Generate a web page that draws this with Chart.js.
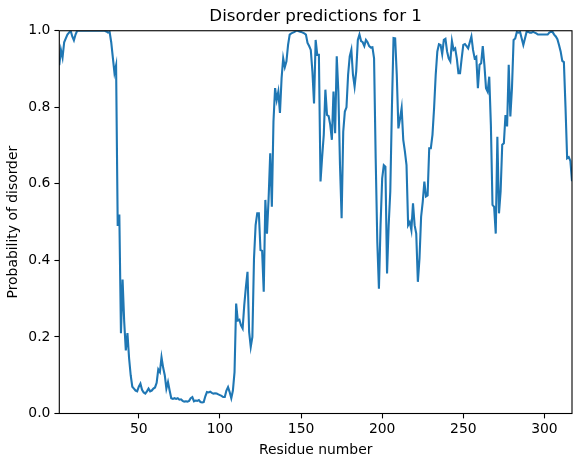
<!DOCTYPE html>
<html>
<head>
<meta charset="utf-8">
<title>Disorder predictions for 1</title>
<script src="https://cdn.jsdelivr.net/npm/chart.js@4.4.1/dist/chart.umd.min.js"></script>
<style>
  html, body { margin: 0; padding: 0; background: #fff; }
  #wrap { width: 573px; height: 459px; }
</style>
</head>
<body>
<div id="wrap"><canvas id="disorderChart" width="573" height="459"></canvas></div>
<script>
// disorder probability per residue (1..317)
const disorder = [
  0.91, 0.95, 0.93, 0.97, 0.98, 0.99, 0.995, 1.0, 0.985, 0.975,
  0.99, 1.0, 1.0, 1.0, 1.0, 1.0, 1.0, 1.0, 1.0, 1.0,
  1.0, 1.0, 1.0, 1.0, 1.0, 1.0, 1.0, 1.0, 1.0, 0.998,
  0.995, 0.997, 0.97, 0.93, 0.89, 0.91, 0.49, 0.52, 0.21, 0.35,
  0.24, 0.165, 0.21, 0.145, 0.1, 0.07, 0.065, 0.06, 0.058, 0.07,
  0.078, 0.062, 0.055, 0.052, 0.058, 0.065, 0.058, 0.06, 0.065, 0.068,
  0.08, 0.115, 0.108, 0.147, 0.12, 0.1, 0.065, 0.082, 0.06, 0.04,
  0.038, 0.04, 0.038, 0.04, 0.036, 0.037, 0.033, 0.031, 0.032, 0.031,
  0.033, 0.04, 0.043, 0.032, 0.034, 0.033, 0.035, 0.03, 0.029, 0.03,
  0.045, 0.056, 0.055, 0.057, 0.054, 0.052, 0.053, 0.052, 0.05, 0.048,
  0.046, 0.043, 0.043, 0.06, 0.069, 0.056, 0.04, 0.06, 0.108, 0.287,
  0.243, 0.245, 0.23, 0.222, 0.283, 0.33, 0.37, 0.213, 0.174, 0.2,
  0.405, 0.492, 0.523, 0.523, 0.427, 0.425, 0.318, 0.558, 0.47, 0.561,
  0.68, 0.54, 0.763, 0.85, 0.819, 0.841, 0.785, 0.876, 0.928, 0.905,
  0.92, 0.963, 0.99, 0.993, 0.995, 0.997, 1.0, 1.0, 0.998, 0.997,
  0.995, 0.993, 0.99, 0.968, 0.96, 0.95, 0.894, 0.81, 0.976, 0.937,
  0.937, 0.606, 0.67, 0.728, 0.846, 0.78, 0.777, 0.754, 0.715, 0.841,
  0.732, 0.933, 0.841, 0.65, 0.51, 0.736, 0.789, 0.80, 0.885, 0.933,
  0.95, 0.885, 0.854, 0.894, 0.976, 0.99, 0.973, 0.97, 0.96, 0.976,
  0.97, 0.96, 0.956, 0.957, 0.928, 0.667, 0.448, 0.326, 0.492, 0.614,
  0.649, 0.645, 0.366, 0.492, 0.58, 0.798, 0.981, 0.98, 0.885, 0.745,
  0.77, 0.798, 0.715, 0.685, 0.649, 0.492, 0.50, 0.479, 0.549, 0.492,
  0.47, 0.344, 0.405, 0.514, 0.553, 0.606, 0.567, 0.57, 0.693, 0.693,
  0.728, 0.798, 0.885, 0.946, 0.965, 0.963, 0.939, 0.976, 0.979, 0.946,
  0.928, 0.92, 0.973, 0.95, 0.954, 0.928, 0.889, 0.889, 0.928, 0.963,
  0.965, 0.96, 0.954, 0.97, 0.985, 0.95, 0.928, 0.932, 0.85, 0.911,
  0.915, 0.96, 0.911, 0.85, 0.841, 0.88, 0.754, 0.545, 0.54, 0.47,
  0.723, 0.523, 0.58, 0.702, 0.706, 0.78, 0.75, 0.911, 0.776, 0.85,
  0.976, 0.98, 0.997, 0.995, 0.997, 0.98, 0.963, 0.98, 0.997, 0.997,
  0.995, 0.995, 0.997, 0.995, 0.993, 0.99, 0.99, 0.99, 0.99, 0.99,
  0.99, 0.99, 0.995, 0.997, 0.997, 0.99, 0.985, 0.978, 0.963, 0.946,
  0.921, 0.918, 0.8, 0.667, 0.67, 0.66, 0.607
];
const residues = disorder.map((v, i) => i + 1);
const xTicks = [50, 100, 150, 200, 250, 300];
const yTicks = [0, 0.2, 0.4, 0.6, 0.8, 1.0];

const font = { family: "'DejaVu Sans', sans-serif", size: 13.9, lineHeight: 1.2 };

// matplotlib style box round the axes
const frame = {
  id: 'frame',
  afterDraw(chart) {
    const { ctx, chartArea: a } = chart;
    ctx.save();
    ctx.strokeStyle = '#000';
    ctx.lineWidth = 1.1;
    ctx.strokeRect(a.left, a.top, a.right - a.left, a.bottom - a.top);
    ctx.restore();
  }
};

new Chart(document.getElementById('disorderChart'), {
  type: 'line',
  data: {
    datasets: [{
      data: residues.map((r, i) => ({ x: r, y: disorder[i] })),
      borderColor: '#1f77b4',
      borderWidth: 2.1,
      pointRadius: 0,
      tension: 0,
      fill: false,
      clip: 0
    }]
  },
  options: {
    responsive: false,
    animation: false,
    devicePixelRatio: 1,
    layout: { padding: { top: 0, right: 1, bottom: 0, left: 0 } },
    plugins: {
      legend: { display: false },
      tooltip: { enabled: false },
      title: {
        display: true,
        fullSize: false,
        text: 'Disorder predictions for 1',
        color: '#000',
        font: { family: "'DejaVu Sans', sans-serif", size: 16.7, weight: 'normal', lineHeight: 1.2 },
        padding: { top: 6.7, bottom: 4 }
      }
    },
    scales: {
      x: {
        type: 'linear',
        min: 1,
        max: 317,
        afterBuildTicks: axis => { axis.ticks = xTicks.map(v => ({ value: v })); },
        afterFit: scale => { scale.height = 45.5; },
        ticks: { color: '#000', font, padding: 3, maxRotation: 0, autoSkip: false },
        grid: { drawOnChartArea: false, drawTicks: true, tickLength: 4.9, tickColor: '#000', tickWidth: 1.1 },
        border: { display: false },
        title: { display: true, text: 'Residue number', color: '#000', font, padding: { top: 0, bottom: 0 } }
      },
      y: {
        min: 0,
        max: 1,
        afterBuildTicks: axis => { axis.ticks = yTicks.map(v => ({ value: v })); },
        afterFit: scale => { scale.width = 59.3; },
        ticks: { color: '#000', font, padding: 4, callback: v => v.toFixed(1) },
        grid: { drawOnChartArea: false, drawTicks: true, tickLength: 4.9, tickColor: '#000', tickWidth: 1.1 },
        border: { display: false },
        title: { display: true, text: 'Probability of disorder', color: '#000', font, padding: { top: 5.5, bottom: 0 } }
      }
    }
  },
  plugins: [frame]
});
</script>
</body>
</html>
